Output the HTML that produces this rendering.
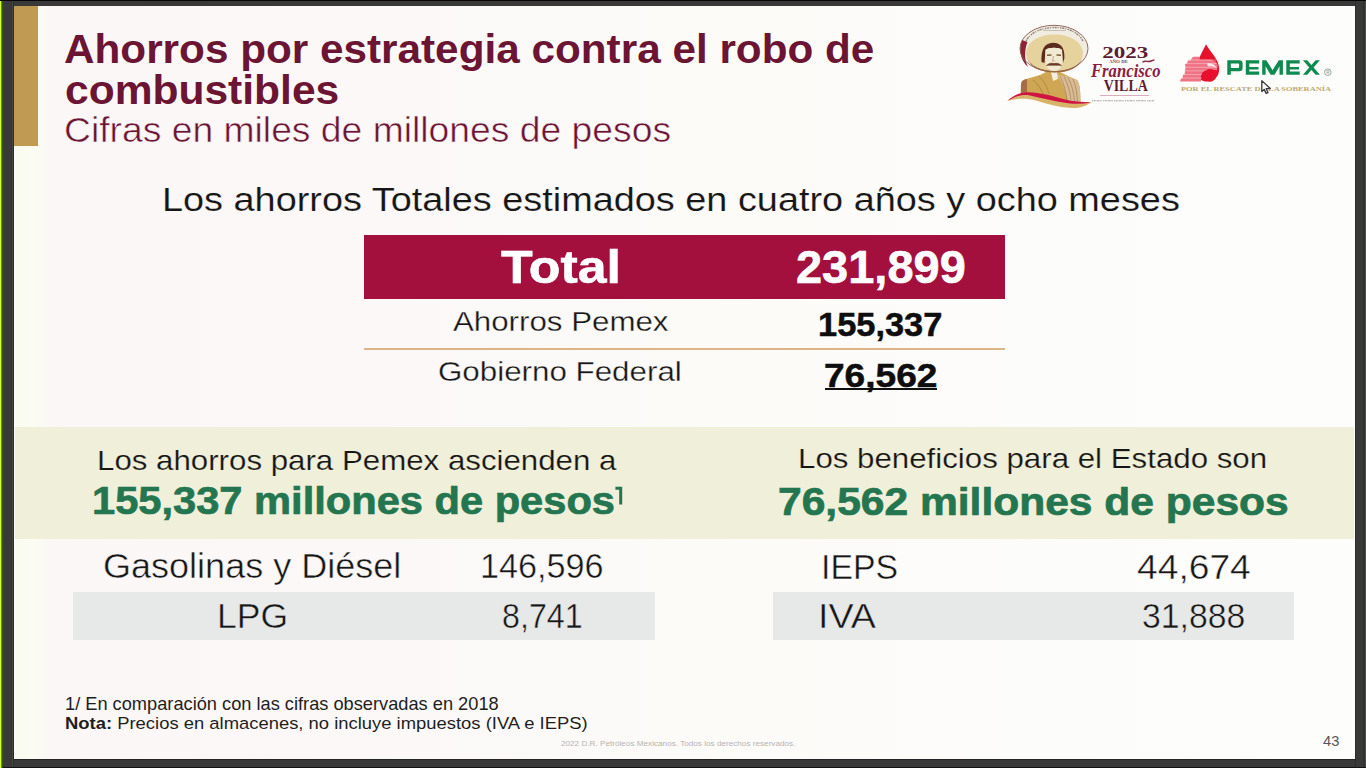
<!DOCTYPE html>
<html><head><meta charset="utf-8">
<style>
html,body{margin:0;padding:0;}
body{width:1366px;height:768px;overflow:hidden;position:relative;background:#3a393a;font-family:"Liberation Sans",sans-serif;}
.a{position:absolute;}
.t{position:absolute;white-space:nowrap;transform-origin:0 0;}
#slide{position:absolute;left:14px;top:6px;width:1341px;height:753px;background:linear-gradient(90deg,#fdfdfd 0px,#fbfcef 2px,#fbfcf2 18px,#faf7f6 40px,#fbf8f7 300px,#fcfbf8 700px,#fdfdfc 1341px);}
</style></head><body>
<div class="a" style="left:0;top:0;width:1px;height:768px;background:#d8ff30"></div>
<div class="a" style="left:1px;top:0;width:1px;height:768px;background:#6f8c12"></div>
<div class="a" style="left:2px;top:0;width:1px;height:768px;background:#2f5500"></div>
<div class="a" style="left:3px;top:0;width:1px;height:768px;background:#3f4022"></div>
<div class="a" style="left:11px;top:0;width:1px;height:768px;background:#323430"></div>
<div class="a" style="left:12px;top:0;width:1px;height:768px;background:#454844"></div>
<div class="a" style="left:13px;top:0;width:1px;height:768px;background:#2e2e28"></div>
<div class="a" style="left:1355px;top:0;width:1px;height:768px;background:#2d2e2d"></div>
<div class="a" style="left:1363px;top:0;width:2px;height:768px;background:#313331"></div>
<div class="a" style="left:1365px;top:0;width:1px;height:768px;background:#4c4c4c"></div>
<div class="a" style="left:0;top:0;width:1366px;height:1px;background:#060606"></div>
<div class="a" style="left:14px;top:759px;width:1342px;height:1px;background:#252525"></div>
<div class="a" style="left:3px;top:767px;width:1363px;height:1px;background:#141214"></div>
<div id="slide"></div>
<!-- gold bar -->
<div class="a" style="left:14px;top:6px;width:24px;height:140px;background:#c09a52"></div>
<!-- red total bar -->
<div class="a" style="left:364px;top:235px;width:641px;height:64px;background:#a3103e"></div>
<!-- gold rule -->
<div class="a" style="left:364px;top:348px;width:641px;height:2px;background:#dcb487"></div>
<!-- green band -->
<div class="a" style="left:15px;top:427px;width:1339px;height:112px;background:#f0efd9"></div>
<!-- gray boxes -->
<div class="a" style="left:73px;top:592px;width:582px;height:48px;background:#e7e9e8"></div>
<div class="a" style="left:773px;top:592px;width:521px;height:48px;background:#e7e9e8"></div>
<!-- underline 76,562 -->
<div class="a" style="left:825px;top:388px;width:112px;height:2px;background:#111"></div>
<svg class="a" style="left:612px;top:484px" width="14" height="24" viewBox="612 484 14 24"><path d="M619.2,504.4 V489.7 H615.4 V486.8 H622.2 V504.4 Z" fill="#23764f"/></svg>
<div class="t" id="t1" style="left:64.45px;top:28.65px;font-size:41.28px;line-height:41.28px;color:#6c1434;transform:scaleX(1.0244);font-weight:700">Ahorros por estrategia contra el robo de</div>
<div class="t" id="t2" style="left:65.22px;top:69.75px;font-size:41.28px;line-height:41.28px;color:#6c1434;transform:scaleX(1.0309);font-weight:700">combustibles</div>
<div class="t" id="sub" style="left:64.14px;top:112.91px;font-size:34.59px;line-height:34.59px;color:#6c1434;transform:scaleX(1.0780);-webkit-text-stroke:0.5px #fcfaf8">Cifras en miles de millones de pesos</div>
<div class="t" id="hdr" style="left:162.37px;top:183.22px;font-size:33.87px;line-height:33.87px;color:#161616;transform:scaleX(1.1181);-webkit-text-stroke:0.15px #fcfaf8">Los ahorros Totales estimados en cuatro años y ocho meses</div>
<div class="t" id="tot" style="left:501.18px;top:244.14px;font-size:46.37px;line-height:46.37px;color:#ffffff;transform:scaleX(1.1186);font-weight:700;-webkit-text-stroke:0.6px #fff">Total</div>
<div class="t" id="totv" style="left:796.29px;top:244.24px;font-size:46.37px;line-height:46.37px;color:#ffffff;transform:scaleX(1.0131);font-weight:700;-webkit-text-stroke:0.6px #fff">231,899</div>
<div class="t" id="ap" style="left:452.80px;top:306.82px;font-size:28.20px;line-height:28.20px;color:#161616;transform:scaleX(1.1090);-webkit-text-stroke:0.3px #fcfaf8">Ahorros Pemex</div>
<div class="t" id="apv" style="left:818.13px;top:307.00px;font-size:34.01px;line-height:34.01px;color:#0e0e0e;transform:scaleX(1.0119);font-weight:700;-webkit-text-stroke:0.5px #0e0e0e">155,337</div>
<div class="t" id="gf" style="left:438.33px;top:356.50px;font-size:28.34px;line-height:28.34px;color:#161616;transform:scaleX(1.1058);-webkit-text-stroke:0.3px #fcfaf8">Gobierno Federal</div>
<div class="t" id="gfv" style="left:823.92px;top:358.54px;font-size:33.14px;line-height:33.14px;color:#0e0e0e;transform:scaleX(1.1190);font-weight:700;-webkit-text-stroke:0.5px #0e0e0e">76,562</div>
<div class="t" id="l1" style="left:97.40px;top:448.43px;font-size:26.89px;line-height:26.89px;color:#161616;transform:scaleX(1.1628);-webkit-text-stroke:0.2px #f0efd9">Los ahorros para Pemex ascienden a</div>
<div class="t" id="l2" style="left:91.50px;top:482.06px;font-size:38.66px;line-height:38.66px;color:#23764f;transform:scaleX(1.0770);font-weight:700;-webkit-text-stroke:0.7px #23764f">155,337 millones de pesos</div>
<div class="t" id="r1" style="left:797.80px;top:445.93px;font-size:26.89px;line-height:26.89px;color:#161616;transform:scaleX(1.1629);-webkit-text-stroke:0.2px #f0efd9">Los beneficios para el Estado son</div>
<div class="t" id="r2" style="left:777.50px;top:483.16px;font-size:38.08px;line-height:38.08px;color:#23764f;transform:scaleX(1.1171);font-weight:700;-webkit-text-stroke:0.7px #23764f">76,562 millones de pesos</div>
<div class="t" id="gas" style="left:102.50px;top:549.03px;font-size:34.45px;line-height:34.45px;color:#161616;transform:scaleX(1.0462);-webkit-text-stroke:0.45px #fcfaf8">Gasolinas y Diésel</div>
<div class="t" id="gasv" style="left:480.11px;top:549.03px;font-size:34.45px;line-height:34.45px;color:#161616;transform:scaleX(0.9928);-webkit-text-stroke:0.45px #fcfaf8">146,596</div>
<div class="t" id="lpg" style="left:216.66px;top:599.13px;font-size:34.45px;line-height:34.45px;color:#161616;transform:scaleX(1.0323);-webkit-text-stroke:0.45px #e7e9e8">LPG</div>
<div class="t" id="lpgv" style="left:501.91px;top:598.89px;font-size:34.74px;line-height:34.74px;color:#161616;transform:scaleX(0.9281);-webkit-text-stroke:0.45px #e7e9e8">8,741</div>
<div class="t" id="ieps" style="left:821.36px;top:548.92px;font-size:35.18px;line-height:35.18px;color:#161616;transform:scaleX(0.9618);-webkit-text-stroke:0.45px #fcfaf8">IEPS</div>
<div class="t" id="iepsv" style="left:1137.26px;top:548.92px;font-size:35.18px;line-height:35.18px;color:#161616;transform:scaleX(1.0579);-webkit-text-stroke:0.45px #fcfaf8">44,674</div>
<div class="t" id="iva" style="left:817.51px;top:598.89px;font-size:34.74px;line-height:34.74px;color:#161616;transform:scaleX(1.0855);-webkit-text-stroke:0.45px #e7e9e8">IVA</div>
<div class="t" id="ivav" style="left:1141.89px;top:598.89px;font-size:34.74px;line-height:34.74px;color:#161616;transform:scaleX(0.9725);-webkit-text-stroke:0.45px #e7e9e8">31,888</div>
<div class="t" id="n1" style="left:64.72px;top:694.82px;font-size:18.17px;line-height:18.17px;color:#1e1e1e;transform:scaleX(1.0039)">1/ En comparación con las cifras observadas en 2018</div>
<div class="t" id="n2" style="left:64.90px;top:715.92px;font-size:16.86px;line-height:16.86px;color:#1e1e1e;transform:scaleX(1.0922)"><b>Nota:</b> Precios en almacenes, no incluye impuestos (IVA e IEPS)</div>
<div class="t" id="cp" style="left:560.89px;top:740.38px;font-size:7.70px;line-height:7.70px;color:#b4b4b4;transform:scaleX(1.0617)">2022 D.R. Petróleos Mexicanos. Todos los derechos reservados.</div>
<div class="t" id="pg" style="left:1322.71px;top:733.08px;font-size:15.26px;line-height:15.26px;color:#555555;transform:scaleX(0.9616)">43</div>
<svg class="a" style="left:1000px;top:15px" width="350" height="105" viewBox="1000 15 350 105">
 <!-- Villa body -->
 <path d="M1020.5,96 L1021,84 C1021.5,80 1024,79.5 1028,78.5 L1040,75 L1046,72 L1060,72 L1068,76 L1077,80 C1080,83 1080.5,92 1080.5,103 L1040,98 Z" fill="#cfa653"/>
 <path d="M1021,84 C1022,80 1024,79.5 1027,79 L1027,95 L1021,95 Z" fill="#8a4a3a" opacity="0.6"/>
 <path d="M1033,80 C1038,84 1042,90 1044,97" fill="none" stroke="#9c7a3a" stroke-width="0.9" opacity="0.8"/>
 <path d="M1039,76 C1043,80 1047,86 1049,94" fill="none" stroke="#a07d3c" stroke-width="0.9" opacity="0.7"/>
 <!-- serape -->
 <path d="M1057,75 L1066,76 L1077,80 C1080,84 1080.5,92 1080.5,103 L1068,101 C1066,92 1062,82 1057,75 Z" fill="#d9bb92"/>
 <g stroke="#a7815e" stroke-width="0.8" fill="none" opacity="0.9">
  <path d="M1060,76 C1064,84 1066,92 1067,100"/>
  <path d="M1064,76.5 C1068,84 1070,92 1071,100"/>
  <path d="M1068,77.5 C1072,85 1073.5,92 1074.5,101"/>
  <path d="M1073,79 C1076,86 1077,93 1077.5,102"/>
 </g>
 <path d="M1051,72 L1057,72 L1058,79 L1053,81 Z" fill="#f5eedc"/>
 <!-- swoosh -->
 <path d="M1007.5,101 C1016,96 1022,94.3 1030,94.6 C1042,95.5 1055,99.5 1068,102 C1076,103.5 1084,103.8 1091.5,102.2 C1086,106 1080,108.2 1072,108 C1060,107.5 1048,104.5 1036,100.5 C1026,97.8 1016,98.5 1007.5,101 Z" fill="#d8b46a"/>
 <path d="M1007.5,100.8 C1014,95 1020,92.3 1028,92.3 C1040,92.5 1052,96 1064,99.2 C1074,101.6 1083,102.3 1091.5,102.2 C1084,104 1076,104.2 1068,103.2 C1055,101.5 1043,98.2 1030,95.4 C1022,94.2 1015,96.5 1007.5,100.8 Z" fill="#cf1443"/>
 <!-- sombrero -->
 <ellipse cx="1054" cy="48.5" rx="34" ry="23.2" fill="#f1ece0"/>
 <ellipse cx="1054.5" cy="53" rx="28.5" ry="18.6" fill="#e5d29c"/>
 <path d="M1022,40 C1018.5,49 1020,60 1028,67 C1024.5,60 1024,51 1027.5,42 Z" fill="#8c2438"/>
 <ellipse cx="1054" cy="48.5" rx="34" ry="23.2" fill="none" stroke="#8a5a50" stroke-width="0.9"/>
 <path d="M1026,41 C1032,30 1046,27.5 1055,27.5 C1064,27.5 1077,30 1083,41" fill="none" stroke="#6e6262" stroke-width="1.4" stroke-dasharray="1.4 0.8 2.2 0.9 1 1.4" opacity="0.75"/>
 <path d="M1043,30.5 H1066" stroke="#8a7e7e" stroke-width="0.8" opacity="0.5"/>
 <path d="M1026.5,57 C1030,66 1042,71 1055,71 C1068,71 1080,66 1082.5,57 C1080,68 1068,72.5 1055,72.5 C1042,72.5 1030,68 1026.5,57 Z" fill="#9a6a40"/>
 <!-- head -->
 <path d="M1041.5,62 C1041,50 1044,43 1053,42.8 C1061,42.8 1064.8,48 1064.4,58 L1063,63 L1062,50 C1060,47 1048,47 1045.5,50 L1044.5,63 Z" fill="#5c2a1e"/>
 <path d="M1045.5,50 C1048,47 1060,47 1062,50 L1062.5,62 C1062,68 1058,71 1054,71 C1050,71 1046,68 1045.5,62 Z" fill="#f2e9d2"/>
 <path d="M1047,55.2 L1051.5,55 M1056.5,55 L1061,55.2" stroke="#7a5a3a" stroke-width="1.4"/>
 <path d="M1046.5,65.5 C1049,63 1052,63 1054,63.6 C1056,63 1059,63 1061.5,65.5 C1058,65 1056,65.6 1054,65.2 C1052,65.6 1050,65 1046.5,65.5 Z" fill="#6a3a24" stroke="#6a3a24" stroke-width="0.6"/>
 <path d="M1053.5,56 L1052.5,61 L1055,61" fill="none" stroke="#b09070" stroke-width="0.7"/>
 <!-- Villa text -->
 <text x="1102.3" y="58.2" font-family="Liberation Serif" font-weight="700" font-size="17" fill="#5d1a31" textLength="46" lengthAdjust="spacingAndGlyphs">2023</text>
 <text x="1109" y="63.3" font-family="Liberation Serif" font-weight="700" font-size="3.2" fill="#7a4a55" textLength="19" lengthAdjust="spacingAndGlyphs">AÑO DE</text>
 <path d="M1142.5,62.3 C1145,59.8 1148,62.5 1151,61 L1154.5,59.8" fill="none" stroke="#8a2848" stroke-width="1.4"/>
 <text x="1091" y="76.5" font-family="Liberation Serif" font-style="italic" font-weight="700" font-size="18.3" fill="#8b1c42" textLength="69.5" lengthAdjust="spacingAndGlyphs">Francisco</text>
 <text x="1103.7" y="91" font-family="Liberation Serif" font-weight="700" font-size="17" fill="#5d1a31" textLength="44" lengthAdjust="spacingAndGlyphs">VILLA</text>
 <rect x="1100" y="95" width="49" height="0.8" fill="#cf9aaa"/>
 <path d="M1092,100.8 H1154" stroke="#8a7a80" stroke-width="1.1" stroke-dasharray="1.2 0.6 2 0.8 3 0.7 1.5 1.2" opacity="0.7"/>
 <!-- Pemex drop -->
 <path d="M1206,44.3 C1210,52 1219,59 1219.2,69 C1219.2,76.5 1214,81.6 1207,81.6 C1201,81.6 1196,77 1196,70 C1196,62 1202,53 1206,44.3 Z" fill="#e8112d"/>
 <path d="M1193,56.8 L1199,56.8 L1200,59.6 L1211,59.6 L1215.5,61.5 L1217.8,65.5 L1217,70.2 L1209,69.6 L1203,71.8 L1201,75 L1201,81.6 L1180,81.6 L1181,78.4 L1182.5,78.4 L1183,74.8 L1184.5,74.8 L1185,71.2 L1185.5,67.6 L1185,64 L1187,63.5 L1188,60.4 L1190.5,60.2 Z" fill="#ef7384"/>
 <g fill="#fbd0d6" opacity="0.6">
  <rect x="1188" y="59.6" width="28" height="0.9"/>
  <rect x="1186" y="63.2" width="31" height="0.9"/>
  <rect x="1185" y="66.8" width="32" height="0.9"/>
  <rect x="1184" y="70.4" width="20" height="0.9"/>
  <rect x="1183" y="74" width="19" height="0.9"/>
  <rect x="1181.5" y="77.6" width="20" height="0.9"/>
 </g>
 <path d="M1207,63.5 C1211,62.5 1215,64 1216.5,68 C1214,66.5 1211,66 1208,66.5 Z" fill="#fde4e8"/>
 <circle cx="1210" cy="75.4" r="6.3" fill="#e8112d"/>
 <g fill="#0e8a4f" fill-rule="evenodd">
  <path d="M1227.3,74.8 V60.2 H1239.3 Q1242.6,60.2 1242.6,63.4 V68.1 Q1242.6,71.3 1239.3,71.3 H1230.8 V74.8 Z M1230.8,63.5 H1238.3 Q1239.1,63.5 1239.1,64.3 V67.1 Q1239.1,67.9 1238.3,67.9 H1230.8 Z"/>
  <path d="M1245.8,60.2 H1259.2 V63.6 H1249.3 V66.9 H1258.5 V69.6 H1249.3 V71.5 H1259.2 V74.8 H1245.8 Z"/>
  <path d="M1262.2,74.8 V60.2 H1266.3 L1272.55,70.2 L1278.8,60.2 H1282.9 V74.8 H1279.5 V66.2 L1274.5,74.8 H1270.6 L1265.6,66.2 V74.8 Z"/>
  <path d="M1286.3,60.2 H1299.7 V63.6 H1289.8 V66.9 H1299 V69.6 H1289.8 V71.5 H1299.7 V74.8 H1286.3 Z"/>
  <path d="M1302.9,60.2 H1307.2 L1319.9,74.8 H1315.6 Z"/>
  <path d="M1315.6,60.2 H1319.9 L1307.2,74.8 H1302.9 Z"/>
 </g>
 <circle cx="1327.8" cy="72.2" r="3.3" fill="none" stroke="#9aa8a2" stroke-width="1"/>
 <text x="1326.2" y="74" font-family="Liberation Sans" font-weight="700" font-size="4.5" fill="#9aa8a2">R</text>
 <text x="1181" y="90.6" font-family="Liberation Serif" font-weight="700" font-size="6.2" fill="#bda872" textLength="150" lengthAdjust="spacingAndGlyphs">POR EL RESCATE DE LA SOBERANÍA</text>
 <!-- cursor -->
 <path d="M1261.8,80.6 L1261.8,91.6 L1264.2,89.4 L1266.1,93.4 L1268,92.6 L1266.2,88.7 L1270.2,88.5 Z" fill="#fafafa" stroke="#3a3a3a" stroke-width="1.3" stroke-linejoin="round"/>
</svg>

</body></html>
